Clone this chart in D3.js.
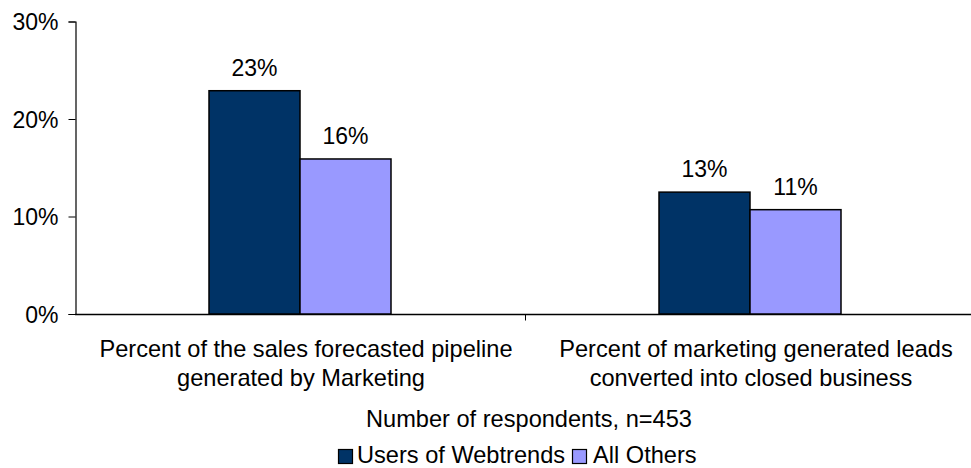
<!DOCTYPE html>
<html><head><meta charset="utf-8">
<script src="https://cdn.jsdelivr.net/npm/d3@7"></script>
<style>body{margin:0;background:#fff}svg{display:block}text{font-family:"Liberation Sans",Arial,sans-serif;fill:#000}</style>
</head><body>
<svg id="c" width="971" height="468"></svg>
<script>
const categories = [
  ["Percent of the sales forecasted pipeline", "generated by Marketing"],
  ["Percent of marketing generated leads", "converted into closed business"]
];
const seriesNames = ["Users of Webtrends", "All Others"];
const webtrends = [0.229, 0.125];
const allOthers = [0.159, 0.107];
const valueLabels = [["23%", "16%"], ["13%", "11%"]];
const yTicks = [0, 0.1, 0.2, 0.3];
const xTitle = "Number of respondents, n=453";
const colors = ["#003366", "#9999FF"];

const FS = "23.6px";
const svg = d3.select("#c");
const x0 = d3.scaleBand().domain([0, 1]).range([75, 975]).padding(0);
const x1 = d3.scaleBand().domain([0, 1]).range([0, 182]);
const y = d3.scaleLinear().domain([0, 0.3]).range([314, 21.5]);

// y axis
const ya = svg.append("g").attr("transform", "translate(75.5,0)")
  .call(d3.axisLeft(y).tickValues(yTicks).tickFormat(d3.format(".0%")).tickSize(7).tickPadding(10));
ya.select(".domain").attr("stroke", "#000").attr("stroke-width", 1.2);
ya.selectAll(".tick line").attr("stroke", "#000");
ya.selectAll("text").style("font-size", "23px").style("font-family", '"Liberation Sans",Arial,sans-serif')
  .attr("fill", "#000").attr("dy", "0.36em");

// x axis line
const xa = svg.append("g").attr("transform", "translate(0," + (y(0) + 0.5) + ")");
xa.append("line").attr("x1", 75).attr("x2", 971).attr("stroke", "#000").attr("stroke-width", 1.5);
xa.append("line").attr("x1", x0(1) + 0.5).attr("x2", x0(1) + 0.5).attr("y1", 0).attr("y2", 6).attr("stroke", "#000");

const data = categories.map((c, i) => ({i, vals: [webtrends[i], allOthers[i]]}));
const g = svg.selectAll(".grp").data(data).join("g")
  .attr("transform", d => `translate(${x0(d.i) + x0.bandwidth() / 2 - 91},0)`);
g.selectAll("rect").data(d => d.vals.map((v, s) => ({v, s}))).join("rect")
  .attr("x", d => x1(d.s)).attr("width", x1.bandwidth())
  .attr("y", d => y(d.v)).attr("height", d => y(0) - y(d.v))
  .attr("fill", d => colors[d.s]).attr("stroke", "#000").attr("stroke-width", 1.5);
g.selectAll("text.vl").data(d => d.vals.map((v, s) => ({v, s, i: d.i}))).join("text")
  .attr("class", "vl")
  .attr("x", d => x1(d.s) + x1.bandwidth() / 2).attr("y", d => y(d.v) - 15)
  .attr("text-anchor", "middle").style("font-size", "23px")
  .text(d => valueLabels[d.i][d.s]);

// category labels
const lineOffset = [6, 1];
categories.forEach((lines, i) => {
  lines.forEach((t, j) => {
    svg.append("text").attr("x", x0(i) + x0.bandwidth() / 2 + lineOffset[j]).attr("y", 357 + j * 29)
      .attr("text-anchor", "middle").style("font-size", FS).text(t);
  });
});
svg.append("text").attr("x", 529).attr("y", 427).attr("text-anchor", "middle").style("font-size", FS).text(xTitle);

// legend
const lg = [{x: 338, tx: 357}, {x: 572, tx: 593}];
seriesNames.forEach((n, i) => {
  svg.append("rect").attr("x", lg[i].x + 0.5).attr("y", 449.5).attr("width", 14).attr("height", 14)
    .attr("fill", colors[i]).attr("stroke", "#000").attr("stroke-width", 1.2);
  svg.append("text").attr("x", lg[i].tx).attr("y", 463).style("font-size", FS).text(n);
});
</script>
</body></html>
